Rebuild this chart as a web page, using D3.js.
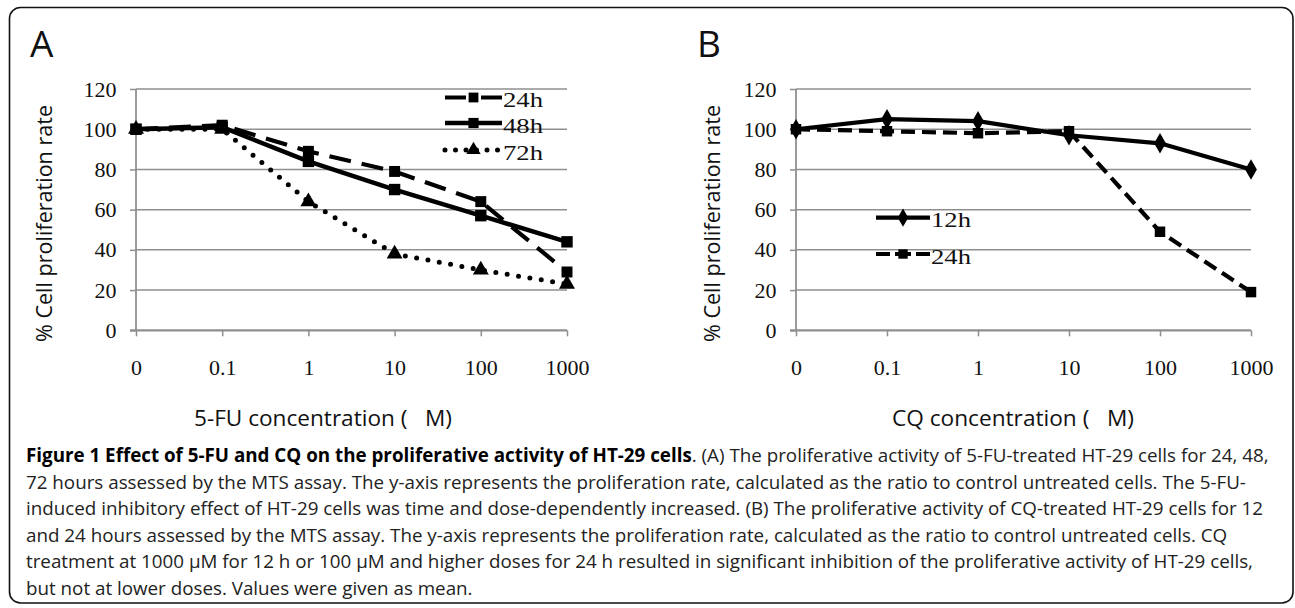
<!DOCTYPE html>
<html><head><meta charset="utf-8">
<script src="https://cdn.jsdelivr.net/npm/d3@7"></script>
<style>body{margin:0;background:#fff}svg{display:block}</style>
</head><body>
<svg id="c" width="1295" height="608"></svg>
<script>
// ---- data ----
const categories = ["0", "0.1", "1", "10", "100", "1000"];
const yTicks = [0, 20, 40, 60, 80, 100, 120];
const fu24h = [100, 102, 89, 79, 64, 29];
const fu48h = [100, 101, 84, 70, 57, 44];
const fu72h = [100, 100, 64, 38, 30, 23];
const cq12h = [100, 105, 104, 97, 93, 80];
const cq24h = [100, 99, 98, 99, 49, 19];
const legendA = ["24h", "48h", "72h"];
const legendB = ["12h", "24h"];
const captionBold = "Figure 1 Effect of 5-FU and CQ on the proliferative activity of HT-29 cells";
const captionLines = [
  ". (A) The proliferative activity of 5-FU-treated HT-29 cells for 24, 48,",
  "72 hours assessed by the MTS assay. The y-axis represents the proliferation rate, calculated as the ratio to control untreated cells. The 5-FU-",
  "induced inhibitory effect of HT-29 cells was time and dose-dependently increased. (B) The proliferative activity of CQ-treated HT-29 cells for 12",
  "and 24 hours assessed by the MTS assay. The y-axis represents the proliferation rate, calculated as the ratio to control untreated cells. CQ",
  "treatment at 1000 \u00b5M for 12 h or 100 \u00b5M and higher doses for 24 h resulted in significant inhibition of the proliferative activity of HT-29 cells,",
  "but not at lower doses. Values were given as mean."
];

const svg = d3.select("#c");
const SANS = "'Open Sans', 'DejaVu Sans', sans-serif";
const SERIF = "'Liberation Serif', 'Times New Roman', serif";
const GRID = "#8f8f8f";

svg.append("rect").attr("x", 9.5).attr("y", 7.5).attr("width", 1283.5).attr("height", 595.5)
  .attr("rx", 11).attr("fill", "#fff").attr("stroke", "#111").attr("stroke-width", 1.6);

function panel(cfg) {
  const x = d3.scalePoint().domain(categories).range([cfg.x0, cfg.x1]).padding(0);
  const y = d3.scaleLinear().domain([0, 120]).range([330.3, 89]);
  const g = svg.append("g");

  // gridlines
  g.append("g").selectAll("line").data(yTicks.filter(d => d > 0)).join("line")
    .attr("x1", cfg.x0).attr("x2", cfg.x1).attr("y1", d => y(d)).attr("y2", d => y(d))
    .attr("stroke", GRID).attr("stroke-width", 1.5);

  // y axis
  const ya = g.append("g").attr("transform", `translate(${cfg.x0},0)`)
    .call(d3.axisLeft(y).tickValues(yTicks).tickSize(6).tickPadding(13.5));
  ya.select(".domain").attr("stroke", GRID).attr("stroke-width", 1.8).attr("d", `M0,${y(0)}V${y(120)}`);
  ya.selectAll(".tick line").attr("stroke", GRID).attr("stroke-width", 1.5);
  ya.selectAll("text").attr("font-family", SERIF).attr("font-size", 22).attr("fill", "#111");

  // x axis
  const xa = g.append("g").attr("transform", `translate(0,${y(0)})`)
    .call(d3.axisBottom(x).tickSize(6).tickPadding(23));
  xa.select(".domain").attr("stroke", GRID).attr("stroke-width", 2.2).attr("d", `M${cfg.x0 - 6},0H${cfg.x1}`);
  xa.selectAll(".tick line").attr("stroke", GRID).attr("stroke-width", 1.5);
  xa.selectAll("text").attr("font-family", SERIF).attr("font-size", 22).attr("fill", "#111");

  // panel letter
  svg.append("text").attr("x", cfg.letterX).attr("y", 57).text(cfg.letter)
    .attr("font-family", SANS).attr("font-size", 37).attr("fill", "#111");

  // y title
  svg.append("text").attr("transform", `translate(${cfg.yTitleX},223.5) rotate(-90)`)
    .attr("text-anchor", "middle").attr("font-family", SANS).attr("font-size", 22).attr("fill", "#111")
    .attr("textLength", 237).attr("lengthAdjust", "spacingAndGlyphs")
    .text("% Cell proliferation rate");
  // x title
  svg.append("text").attr("x", cfg.xTitleX).attr("y", 425.5).attr("text-anchor", "middle")
    .attr("font-family", SANS).attr("font-size", 22).attr("fill", "#111")
    .style("white-space", "pre")
    .attr("textLength", cfg.xTitleLen).attr("lengthAdjust", "spacingAndGlyphs")
    .text(cfg.xTitle);

  const line = d3.line().x((d, i) => x(categories[i])).y(d => y(d));
  cfg.series.forEach(s => {
    g.append("path").attr("d", line(s.values)).attr("fill", "none").attr("stroke", "#000")
      .attr("stroke-width", s.width).attr("stroke-dasharray", s.dash || null)
      .attr("stroke-linecap", s.cap || "butt").attr("stroke-linejoin", "round");
  });
  cfg.series.forEach(s => {
    g.append("g").selectAll("path").data(s.values).join("path")
      .attr("transform", (d, i) => `translate(${x(categories[i])},${y(d)})`)
      .attr("d", d3.symbol().type(s.symbol).size(s.size)).attr("fill", "#000");
  });

  // legend
  cfg.series.forEach((s, i) => {
    const ly = cfg.legendY[i];
    const lg = svg.append("g");
    lg.append("path").attr("d", `M${cfg.legendX0},${ly}H${cfg.legendX1}`).attr("stroke", "#000")
      .attr("stroke-width", s.width).attr("fill", "none").attr("stroke-dasharray", s.legendDash || s.dash || null)
      .attr("stroke-linecap", s.cap || "butt");
    lg.append("path").attr("transform", `translate(${(cfg.legendX0 + cfg.legendX1) / 2},${ly})`)
      .attr("d", d3.symbol().type(s.symbol).size(s.size * 0.8)).attr("fill", "#000");
    lg.append("text").attr("x", cfg.legendX1 + 1).attr("y", ly + 9.5).text(s.name)
      .attr("font-family", SERIF).attr("font-size", 21).attr("fill", "#111")
      .attr("textLength", 40).attr("lengthAdjust", "spacingAndGlyphs");
  });
}

panel({
  x0: 136, x1: 567, letter: "A", letterX: 30, yTitleX: 52, xTitleX: 323, xTitleLen: 258,
  xTitle: "5-FU concentration (   M)",
  legendX0: 445, legendX1: 502, legendY: [97.5, 123, 150],
  series: [
    {name: legendA[0], values: fu24h, width: 4.2, dash: "22,11", legendDash: "21,3,9,3,21", symbol: d3.symbolSquare, size: 120},
    {name: legendA[1], values: fu48h, width: 4.5, symbol: d3.symbolSquare, size: 130},
    {name: legendA[2], values: fu72h, width: 5, dash: "0,11.5", legendDash: "0,10.5", cap: "round", symbol: d3.symbolTriangle, size: 110}
  ]
});
panel({
  x0: 796, x1: 1251, letter: "B", letterX: 697, yTitleX: 720, xTitleX: 1013, xTitleLen: 242,
  xTitle: "CQ concentration (   M)",
  legendX0: 876, legendX1: 930, legendY: [217.7, 254],
  series: [
    {name: legendB[0], values: cq12h, width: 4.2, symbol: d3.symbolDiamond, size: 120},
    {name: legendB[1], values: cq24h, width: 4.2, dash: "14,7", legendDash: "14,5,16,5,14", symbol: d3.symbolSquare, size: 110}
  ]
});

// caption
const cap = svg.append("g").attr("font-family", SANS).attr("font-size", 18.8).attr("fill", "#222");
captionLines.forEach((ln, i) => {
  const t = cap.append("text").attr("x", 26).attr("y", 462 + i * 26.5);
  if (i === 0) t.append("tspan").attr("font-weight", "bold").attr("fill", "#000").text(captionBold);
  t.append("tspan").text(ln);
});
</script>
</body></html>
